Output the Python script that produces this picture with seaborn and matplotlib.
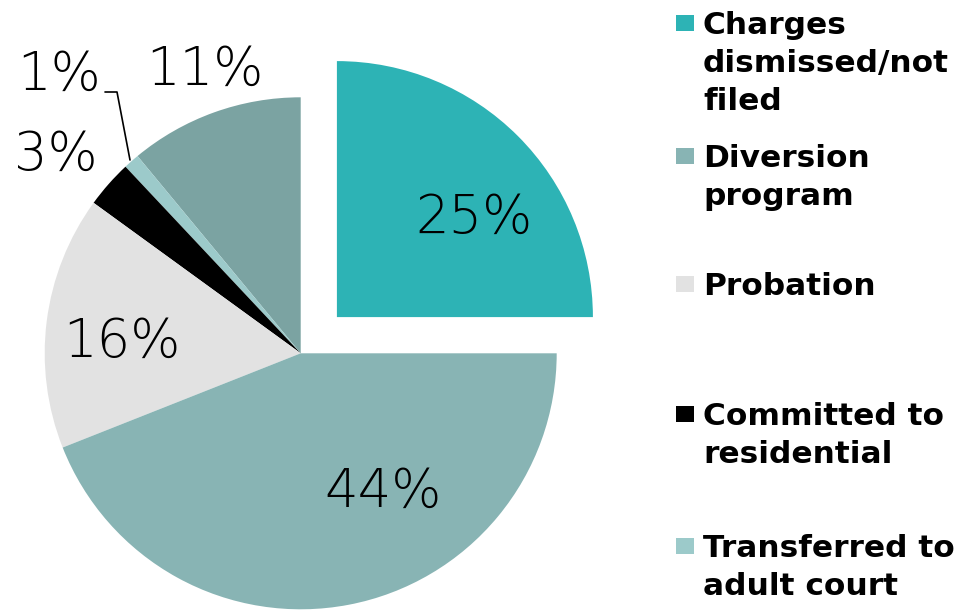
import numpy as np
import matplotlib
matplotlib.use("Agg")
import matplotlib.pyplot as plt
import matplotlib.patches as mpatches
import seaborn as sns

# slice data, counter-clockwise from 3 o'clock
shares = [25, 11, 1, 3, 16, 44]
pct_labels = ["25%", "11%", "1%", "3%", "16%", "44%"]
colors = ["#2DB3B5", "#7BA3A2", "#9CCACA", "#000000", "#E2E2E2", "#88B4B4"]
explode = [0.2, 0, 0, 0, 0, 0]

legend_labels = ["Charges\ndismissed/not\nfiled", "Diversion\nprogram", "Probation",
                 "Committed to\nresidential", "Transferred to\nadult court"]
legend_colors = ["#2DB3B5", "#88B4B4", "#E2E2E2", "#000000", "#9CCACA"]

sns.set_theme(style="white")
W, H = 967, 610
fig = plt.figure(figsize=(W / 100, H / 100), dpi=100)
ax = fig.add_axes([0, 0, 1, 1])

cx, cy, R = 300.7, 353.3, 256.0
def px(x, y):
    return ((x - cx) / R, (cy - y) / R)

wedges, _ = ax.pie(shares, colors=colors, explode=explode, startangle=0,
                   counterclock=True, radius=1.0, center=(0, 0),
                   wedgeprops=dict(linewidth=0))
ax.set_xlim(-cx / R, (W - cx) / R)
ax.set_ylim(-(H - cy) / R, cy / R)
ax.set_aspect("equal")
ax.axis("off")

label_pos = [(474, 218), (205, 70), (59, 75), (56, 155), (122, 342), (383, 492)]
pfont = dict(family="DejaVu Sans", weight=200, size=38, color="black")
for lab, (x, y) in zip(pct_labels, label_pos):
    ax.text(*px(x, y), lab, ha="center", va="center", **pfont)

# leader line for the 1% slice
p0, p1, p2 = px(105, 92), px(117, 92), px(130, 160)
ax.plot([p0[0], p1[0], p2[0]], [p0[1], p1[1], p2[1]], color="black", lw=1.2)

# legend
tops = [11, 144, 272, 402, 534]
for lab, col, t in zip(legend_labels, legend_colors, tops):
    fig.patches.append(mpatches.Rectangle((676 / W, 1 - (t + 20) / H), 18 / W, 16 / H,
                                          transform=fig.transFigure, color=col, lw=0))
    fig.text(703 / W, 1 - t / H, lab, ha="left", va="top", fontsize=22.5,
             fontweight="bold", family="DejaVu Sans", linespacing=1.4, color="black")

fig.savefig("out.png", dpi=100)
